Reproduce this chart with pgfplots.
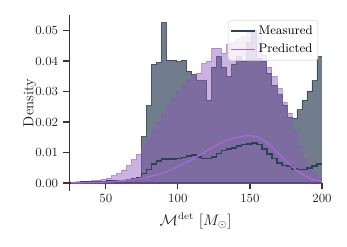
\documentclass[border=0pt]{standalone}
\usepackage{pgfplots}
\usepackage{pgfplotstable}
\pgfplotsset{compat=1.18}
\definecolor{meas}{HTML}{2E4057}
\definecolor{predf}{RGB}{140,87,184}
\definecolor{predl}{RGB}{166,104,214}
\definecolor{axc}{HTML}{333333}

\pgfplotstableread{
x meas pred line
26.00 0.0002 0.0003 0.0002
29.48 0.0002 0.0004 0.0002
32.96 0.0003 0.0005 0.0003
36.44 0.0003 0.0006 0.0003
39.92 0.0004 0.0008 0.0004
43.40 0.0004 0.0010 0.0004
46.88 0.0005 0.0013 0.0005
50.36 0.0006 0.0017 0.0006
53.84 0.0007 0.0024 0.0007
57.32 0.0008 0.0032 0.0008
60.80 0.0009 0.0043 0.0009
64.28 0.0011 0.0058 0.0011
67.76 0.0013 0.0077 0.0013
71.24 0.0016 0.0095 0.0016
74.72 0.0152 0.0115 0.0032
78.20 0.0254 0.0142 0.0045
81.68 0.0389 0.0172 0.0062
85.16 0.0395 0.0198 0.0073
88.64 0.0526 0.0228 0.0078
92.12 0.0403 0.0256 0.0078
95.60 0.0403 0.0278 0.0079
99.08 0.0398 0.0300 0.0080
102.56 0.0403 0.0320 0.0084
106.04 0.0367 0.0337 0.0088
109.52 0.0355 0.0352 0.0092
113.00 0.0335 0.0360 0.0086
116.48 0.0335 0.0392 0.0081
119.96 0.0272 0.0400 0.0080
123.44 0.0380 0.0442 0.0086
126.92 0.0414 0.0442 0.0097
130.40 0.0380 0.0425 0.0106
133.88 0.0350 0.0455 0.0112
137.36 0.0390 0.0460 0.0115
140.84 0.0415 0.0470 0.0122
144.32 0.0400 0.0480 0.0126
147.80 0.0460 0.0495 0.0128
151.28 0.0500 0.0500 0.0132
154.76 0.0410 0.0480 0.0126
158.24 0.0400 0.0420 0.0112
161.72 0.0360 0.0380 0.0096
165.20 0.0320 0.0350 0.0080
168.68 0.0290 0.0310 0.0066
172.16 0.0256 0.0265 0.0058
175.64 0.0215 0.0230 0.0055
179.12 0.0212 0.0170 0.0046
182.60 0.0240 0.0120 0.0044
186.08 0.0272 0.0080 0.0045
189.56 0.0302 0.0050 0.0050
193.04 0.0335 0.0030 0.0055
196.52 0.0414 0.0015 0.0062
200.00 0.0414 0.0015 0.0062
}\hist

\pgfplotstableread{
x y
26 0.0001
40 0.0002
53 0.0004
65 0.0010
75 0.0016
88 0.0030
100 0.0054
111 0.0080
123 0.0114
134 0.0140
146 0.0154
150 0.0155
155 0.0151
160 0.0138
166 0.0115
172 0.0086
179 0.0055
186 0.0030
193 0.0013
200 0.0005
}\curve

\begin{document}
\begin{tikzpicture}
\useasboundingbox (-49.9pt,-40.5pt) rectangle (199.9pt,137.3pt);
\begin{axis}[
  at={(0,0)}, anchor=south west, scale only axis,
  width=181.9pt, height=126.5pt,
  xmin=24.7, xmax=200, ymin=-0.00252, ymax=0.05508,
  axis x line=center, axis y line=left,
  axis line style={-, axc, line width=0.9pt},
  tick align=outside, major tick length=4.5pt,
  tick style={axc, line width=0.9pt},
  xtick={50,100,150,200}, ytick={0,0.01,0.02,0.03,0.04,0.05},
  yticklabel style={/pgf/number format/fixed, /pgf/number format/fixed zerofill, /pgf/number format/precision=2},
  scaled y ticks=false,
  hide obscured x ticks=false, hide obscured y ticks=false,
  ticklabel style={font=\small, color=black!85},
  xlabel={$\mathcal{M}^{\mathrm{det}}\ [M_\odot]$},
  ylabel={Density},
  label style={font=\fontsize{10.5}{12}\selectfont, color=black!85},
  xlabel style={at={([yshift=-12.5pt]axis description cs:0.5,0)}, anchor=north},
  ylabel style={at={([xshift=-28.3pt]axis description cs:0,0.5)}, anchor=center},
  legend style={at={(axis description cs:0.985,0.97)}, anchor=north east,
    draw=black!15, rounded corners=2pt, fill=white, fill opacity=0.8, text opacity=1,
    font=\small, inner sep=1.8pt, row sep=1.5pt},
  legend cell align=left,
  legend image code/.code={\draw[#1] (0cm,0cm) -- (0.6cm,0cm);},
]
\addplot[const plot, fill=meas, fill opacity=0.68, draw=meas, draw opacity=0.8, line width=0.5pt, forget plot]
  table[x=x, y=meas] {\hist} \closedcycle;
\addplot[const plot, fill=predf, fill opacity=0.45, draw=predf, draw opacity=0.5, line width=0.5pt, forget plot]
  table[x=x, y=pred] {\hist} \closedcycle;
\addplot[const plot, draw=meas, line width=1.1pt] table[x=x, y=line] {\hist};
\addlegendentry{Measured}
\addplot[smooth, draw=predl, line width=1pt] table[x=x, y=y] {\curve};
\addlegendentry{Predicted}
\end{axis}
\end{tikzpicture}
\end{document}
